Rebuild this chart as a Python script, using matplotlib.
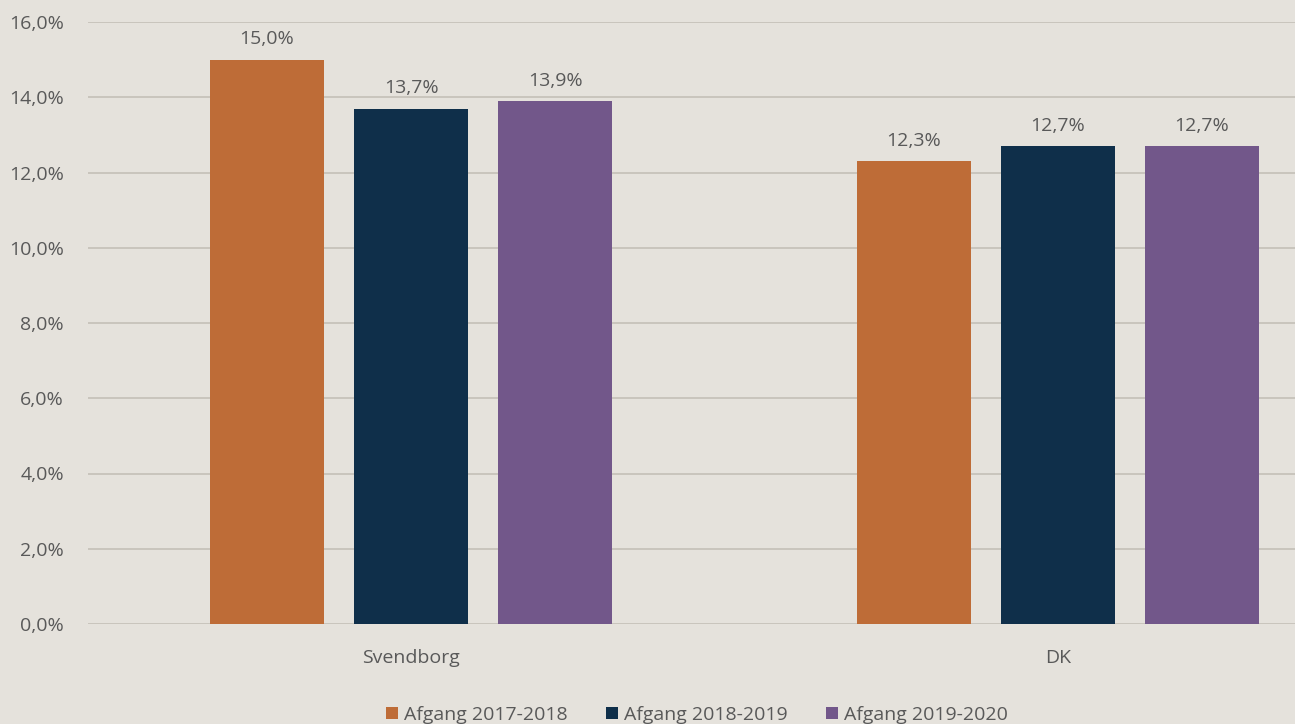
import numpy as np
import matplotlib
matplotlib.use("Agg")
import matplotlib.pyplot as plt
from matplotlib.ticker import FuncFormatter

categories = ["Svendborg", "DK"]
series_labels = ["Afgang 2017-2018", "Afgang 2018-2019", "Afgang 2019-2020"]
values = [
    [15.0, 12.3],
    [13.7, 12.7],
    [13.9, 12.7],
]
colors = ["#BE6C37", "#0F2F4A", "#72578A"]

BG = "#E5E2DC"
TEXT = "#595959"
FS = 14

plt.rcParams["font.family"] = ["Open Sans", "DejaVu Sans"]

fig = plt.figure(figsize=(12.95, 7.24), dpi=100, facecolor=BG)
# axis runs past right edge like in the original (cropped)
ax = fig.add_axes([87.5 / 1295, 100 / 724, 1294 / 1295, 602 / 724])
ax.set_facecolor(BG)

x = np.arange(len(categories))
width = 0.175
step = 0.2226
for i, (vals, lab, col) in enumerate(zip(values, series_labels, colors)):
    pos = x + (i - 1) * step
    bars = ax.bar(pos, vals, width, color=col, label=lab, zorder=3)
    for b, v in zip(bars, vals):
        ax.text(b.get_x() + b.get_width() / 2, v + 0.3, f"{v:.1f}%".replace(".", ","),
                ha="center", va="bottom", fontsize=FS, color=TEXT)

ax.set_xlim(-0.5, 1.5)
ax.set_ylim(0, 16)
ax.set_yticks(np.arange(0, 16.1, 2))
ax.yaxis.set_major_formatter(FuncFormatter(lambda v, p: f"{v:.1f}%".replace(".", ",")))
ax.set_xticks(x)
ax.set_xticklabels(categories)
ax.tick_params(axis="both", length=0, labelsize=FS, colors=TEXT)
ax.tick_params(axis="x", pad=18)
ax.tick_params(axis="y", pad=17)
ax.grid(axis="y", color="#C6C2BA", linewidth=1.3, zorder=0)
ax.set_axisbelow(True)
for s in ax.spines.values():
    s.set_visible(False)

fig.legend(loc="lower center", bbox_to_anchor=(0.538, -0.024), ncol=3, frameon=False,
           fontsize=FS, labelcolor=TEXT, handlelength=0.6, handleheight=0.6,
           handletextpad=0.3, columnspacing=2.0)

fig.savefig("out.png", dpi=100, facecolor=BG)
